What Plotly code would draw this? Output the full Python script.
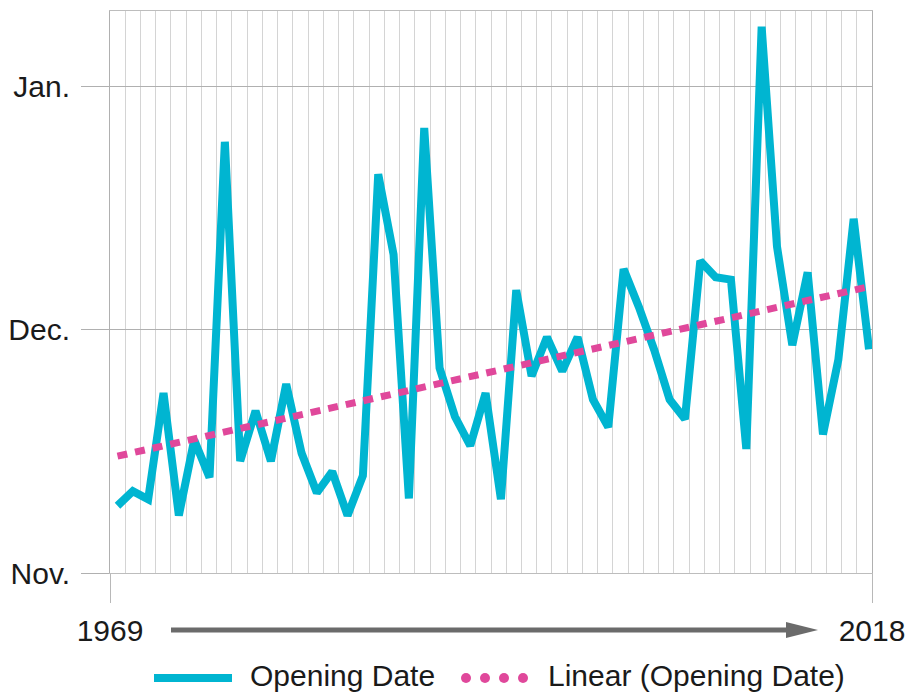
import numpy as np
import plotly.graph_objects as go

# ---- data (days after Nov. 1) ----
years = list(range(1969, 2019))
opening_days = [8.3, 10.1, 9.1, 22.2, 7.1, 16.4, 11.8, 53.2, 13.8, 20.0,
                13.8, 23.3, 14.8, 9.9, 12.5, 7.1, 12.0, 49.2, 39.3, 9.2,
                54.9, 25.3, 19.3, 15.7, 22.2, 9.1, 34.9, 24.3, 29.1, 24.9,
                29.1, 21.4, 18.0, 37.5, 32.8, 27.5, 21.4, 19.0, 38.5, 36.5,
                36.2, 15.3, 67.4, 40.3, 28.1, 37.1, 17.1, 26.3, 43.7, 27.6]
y_tick_vals = [0, 30, 60]
y_tick_text = ["Nov.", "Dec.", "Jan."]
x_tick_text = ["1969", "2018"]
legend_names = ["Opening Date", "Linear (Opening Date)"]

# linear trendline (least squares, like the spreadsheet's "Linear" trendline)
slope, intercept = np.polyfit(years, opening_days, 1)
trend = [slope * yr + intercept for yr in years]

CYAN = "#00B5D1"
PINK = "#E0489B"
FONT = "Liberation Sans, Arial, sans-serif"

W, H = 910, 694
L, R, T, B = 110, 872, 11, 573
x_lo, x_hi = 1968.511, 2018.196
y_hi = 69.34


def px(xp):
    return (xp - L) / (R - L)


def py(yp):
    return (B - yp) / (B - T)


fig = go.Figure()
fig.add_trace(go.Scatter(x=years, y=opening_days, mode="lines", name=legend_names[0],
                         line=dict(color=CYAN, width=8), showlegend=False))
fig.add_trace(go.Scatter(x=[years[0], years[-1]], y=[trend[0], trend[-1]], mode="lines",
                         name=legend_names[1],
                         line=dict(color=PINK, width=7, dash="10px,8px"), showlegend=False))

grid_vals = list(np.linspace(x_lo, x_hi, 51))

fig.update_xaxes(range=[x_lo, x_hi], tickmode="array", tickvals=[x_lo, x_hi], ticktext=x_tick_text,
                 ticks="outside", ticklen=29, tickcolor="#b8b8b8", tickwidth=1,
                 showgrid=True, gridcolor="#d4d4d4", gridwidth=1,
                 minor=dict(tickmode="array", tickvals=grid_vals, showgrid=True, gridcolor="#d4d4d4", ticks=""),
                 showline=True, linecolor="#bdbdbd", linewidth=1, mirror=True, zeroline=False,
                 automargin=False,
                 ticklabelstandoff=2, tickfont=dict(family=FONT, size=30, color="#1a1a1a"))
fig.update_yaxes(range=[0, y_hi], tickmode="array", tickvals=y_tick_vals, ticktext=y_tick_text,
                 ticks="outside", ticklen=28, tickcolor="#b0b0b0", tickwidth=1,
                 showgrid=True, gridcolor="#b0b0b0", gridwidth=1,
                 showline=True, linecolor="#b0b0b0", linewidth=1, mirror=True, zeroline=False,
                 automargin=False,
                 ticklabelstandoff=5, tickfont=dict(family=FONT, size=30, color="#1a1a1a"))

shapes = []
# timeline arrow
shapes.append(dict(type="line", xref="paper", yref="paper", x0=px(171), x1=px(790), y0=py(630), y1=py(630),
                   line=dict(color="#6b6b6b", width=5)))
shapes.append(dict(type="path", xref="paper", yref="paper",
                   path=f"M{px(786)},{py(622)} L{px(818)},{py(630)} L{px(786)},{py(638)} Z",
                   fillcolor="#6b6b6b", line=dict(width=0)))
# legend samples
shapes.append(dict(type="line", xref="paper", yref="paper", x0=px(154), x1=px(232), y0=py(678), y1=py(678),
                   line=dict(color=CYAN, width=8)))
for cx in [466, 485, 504, 523]:
    shapes.append(dict(type="circle", xref="paper", yref="paper",
                       x0=px(cx - 5), x1=px(cx + 5), y0=py(683), y1=py(673),
                       fillcolor=PINK, line=dict(width=0)))

annotations = [
    dict(xref="paper", yref="paper", x=px(248), y=py(675), text=legend_names[0], showarrow=False,
         xanchor="left", yanchor="middle", font=dict(family=FONT, size=30, color="#1a1a1a")),
    dict(xref="paper", yref="paper", x=px(546), y=py(675), text=legend_names[1], showarrow=False,
         xanchor="left", yanchor="middle", font=dict(family=FONT, size=30, color="#1a1a1a")),
]

fig.update_layout(width=W, height=H, margin=dict(l=L, r=W - R, t=T, b=H - B, pad=0, autoexpand=False),
                  paper_bgcolor="white", plot_bgcolor="white", showlegend=False,
                  shapes=shapes, annotations=annotations, font=dict(family=FONT))

fig.write_html("out.html", config={"displayModeBar": False},
               post_script="document.body.style.margin='0';document.body.style.overflow='hidden';")
